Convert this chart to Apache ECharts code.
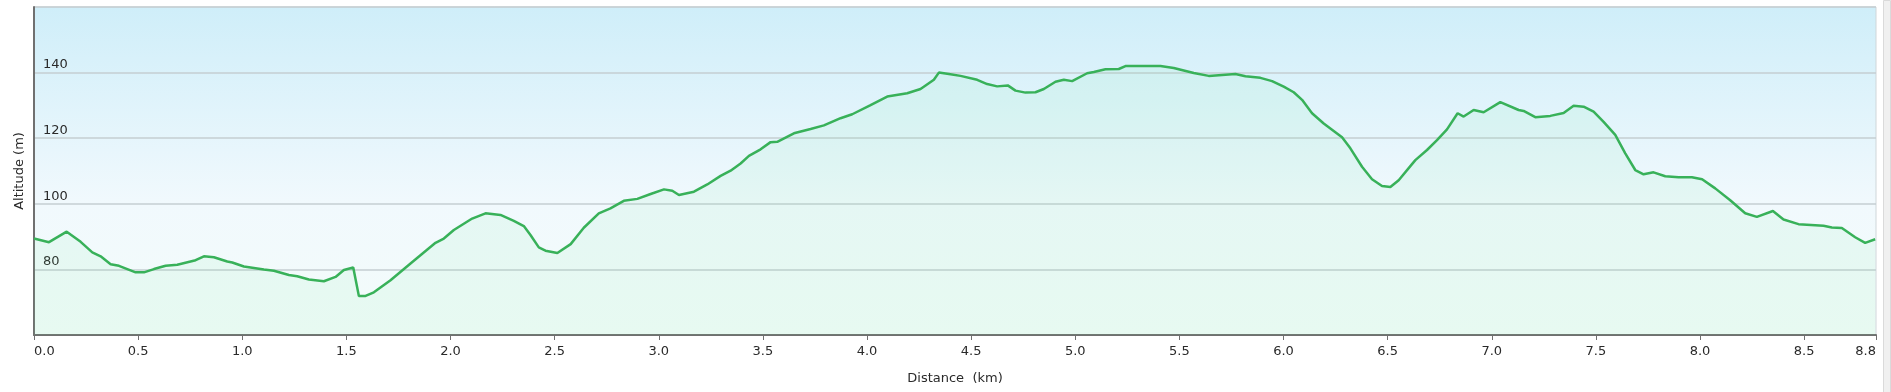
<!DOCTYPE html>
<html>
<head>
<meta charset="utf-8">
<script src="https://cdn.jsdelivr.net/npm/echarts@6/dist/echarts.min.js"></script>
<style>html,body{margin:0;padding:0;background:#fff}#c{width:1891px;height:392px}</style>
</head>
<body>
<div id="c"></div>
<script>
const distances = [0.000,0.072,0.157,0.224,0.280,0.320,0.368,0.408,0.488,0.528,0.576,0.632,0.688,0.776,0.816,0.864,0.928,0.952,1.008,1.104,1.152,1.224,1.264,1.320,1.392,1.448,1.488,1.533,1.560,1.592,1.632,1.712,1.808,1.928,1.968,2.016,2.104,2.168,2.240,2.304,2.352,2.384,2.424,2.456,2.513,2.577,2.640,2.712,2.768,2.832,2.897,2.961,3.025,3.065,3.097,3.169,3.233,3.297,3.345,3.393,3.433,3.489,3.537,3.569,3.649,3.729,3.793,3.873,3.929,4.017,4.097,4.193,4.257,4.321,4.345,4.393,4.449,4.529,4.577,4.625,4.676,4.713,4.761,4.809,4.849,4.905,4.945,4.985,5.057,5.089,5.145,5.209,5.241,5.409,5.473,5.569,5.641,5.769,5.817,5.889,5.945,6.001,6.049,6.089,6.137,6.193,6.281,6.321,6.377,6.425,6.473,6.513,6.553,6.609,6.633,6.689,6.737,6.785,6.836,6.865,6.913,6.961,7.041,7.129,7.153,7.209,7.281,7.345,7.393,7.441,7.489,7.537,7.593,7.641,7.689,7.729,7.777,7.833,7.897,7.961,8.010,8.073,8.145,8.217,8.273,8.350,8.401,8.473,8.593,8.633,8.681,8.745,8.793,8.841];
const altitudes = [89.4,88.3,91.5,88.4,85.2,84.0,81.6,81.1,79.1,79.1,80.1,81.1,81.4,82.8,84.0,83.7,82.4,82.1,80.9,80.0,79.6,78.3,77.9,76.9,76.4,77.7,79.8,80.6,71.9,71.9,73.0,76.7,81.8,88.1,89.4,92.0,95.5,97.1,96.6,94.8,93.2,90.5,86.7,85.7,85.0,87.7,92.7,97.1,98.6,100.9,101.5,103.0,104.4,104.0,102.7,103.7,105.9,108.5,110.1,112.3,114.6,116.6,118.8,118.9,121.5,122.8,123.9,126.1,127.3,130.1,132.7,133.7,135.0,137.8,140.0,139.6,139.0,137.8,136.5,135.8,136.1,134.5,133.9,134.0,135.0,137.2,137.8,137.4,139.8,140.2,141.0,141.1,142.0,142.0,141.4,139.9,139.0,139.6,138.9,138.4,137.4,135.7,134.0,131.7,127.6,124.5,120.3,116.9,111.3,107.5,105.4,105.1,107.2,111.5,113.3,116.4,119.4,122.7,127.6,126.6,128.6,127.9,131.0,128.6,128.3,126.4,126.8,127.7,129.9,129.6,128.1,125.0,121.0,115.4,110.3,109.0,109.6,108.4,108.1,108.1,107.5,104.7,101.1,97.1,96.0,97.8,95.2,93.8,93.3,92.8,92.6,89.8,88.1,89.2];
const xTickStep = 0.5;
const xMax = 8.845;
const yMin = 60, yMax = 160, yStep = 20;
const xAxisName = 'Distance  (km)';
const yAxisName = 'Altitude (m)';

const chart = echarts.init(document.getElementById('c'), null, {renderer: 'canvas'});
const font = 'DejaVu Sans';
chart.setOption({
  animation: false,
  backgroundColor: '#ffffff',
  textStyle: {fontFamily: font},
  graphic: [{
    type: 'rect', right: 0, top: 0, z: 10,
    shape: {width: 7, height: 392},
    style: {fill: '#f0f0f0', stroke: '#dadada', lineWidth: 1}
  }],
  grid: {
    left: 34, right: 15, top: 7, bottom: 57,
    show: true,
    borderColor: '#cfd6d9', borderWidth: 1,
    backgroundColor: new echarts.graphic.LinearGradient(0, 0, 0, 1, [
      {offset: 0, color: '#cfeef9'},
      {offset: 0.6, color: '#f1f9fd'},
      {offset: 1, color: '#f3fcfa'}
    ])
  },
  xAxis: {
    type: 'value', min: 0, max: xMax, interval: xTickStep,
    name: xAxisName, nameLocation: 'middle', nameGap: 37,
    nameTextStyle: {color: '#2a2a2a', fontSize: 13, fontFamily: font},
    axisLine: {show: true, lineStyle: {color: '#707070', width: 2}},
    axisTick: {show: true, length: 5, lineStyle: {color: '#707070', width: 1}},
    axisLabel: {color: '#2a2a2a', fontSize: 13, margin: 10, fontFamily: font,
      showMinLabel: true, showMaxLabel: true,
      alignMinLabel: 'left', alignMaxLabel: 'right',
      formatter: v => v.toFixed(1)},
    splitLine: {show: false}
  },
  yAxis: {
    type: 'value', min: yMin, max: yMax, interval: yStep,
    name: yAxisName, nameLocation: 'middle', nameGap: 3, nameRotate: 90,
    nameTextStyle: {color: '#2a2a2a', fontSize: 13, fontFamily: font},
    axisLine: {show: true, lineStyle: {color: '#707070', width: 2}},
    axisTick: {show: false},
    axisLabel: {inside: true, color: '#2a2a2a', fontSize: 13, margin: 9, fontFamily: font,
      verticalAlign: 'bottom', padding: [0, 0, 1, 0],
      showMinLabel: false, showMaxLabel: false},
    splitLine: {show: true, lineStyle: {color: '#c4ced2', width: 1.5}}
  },
  series: [{
    type: 'line',
    data: distances.map((d, i) => [d, altitudes[i]]),
    showSymbol: false,
    smooth: false,
    lineStyle: {color: '#38b159', width: 2.5},
    itemStyle: {color: '#38b159'},
    areaStyle: {color: 'rgba(110, 230, 150, 0.13)'}
  }]
});
</script>
</body>
</html>
